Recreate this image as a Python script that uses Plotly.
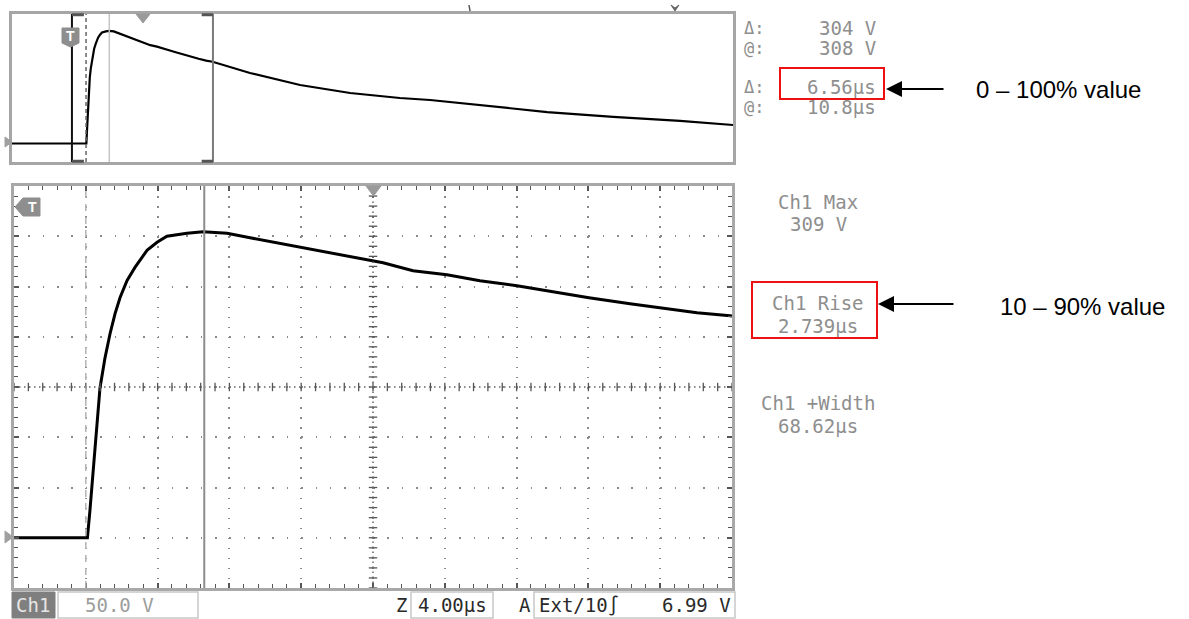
import numpy as np
import plotly.graph_objects as go

W, H = 1189, 619

# ---------------- data ----------------
TIME_US = [-17.0, 4.09, 4.23, 4.38, 4.57, 4.79, 5.07, 5.35, 5.63, 5.91, 6.30, 6.74,
           7.41, 7.97, 8.52, 9.64, 10.53, 11.87, 13.15, 14.99, 16.88, 18.72, 20.56,
           22.23, 24.12, 25.96, 28.02, 29.69, 32.03, 34.32, 35.93, 38.05, 39.89,
           50.5, 64.7, 78.9, 93.0, 101.6, 115.7, 134.8, 153.5, 172.5, 187.5]
VOLTS = [0, 0, 27, 60, 109, 149, 179, 203, 223, 239, 256, 269,
         286, 294, 300, 303, 304.5, 303, 298.5, 292.5, 285.6, 279.6, 273.6,
         265.7, 261.7, 255.7, 250.7, 245.8, 238.8, 232.8, 228.9, 223.9, 220.9,
         190.5, 158, 136.5, 123, 117.6, 104, 85, 72, 61, 50]

TIME_PER_DIV_US = 4.0
VOLTS_PER_DIV = 50.0
SCREEN_T = [0, 40]
SCREEN_V = [-50, 350]
RECORD_T = [-17, 187.5]
CURSOR_T = 10.6
TRIGGER_T = 4.0

READOUT_LABELS = ["Δ:", "@:", "Δ:", "@:"]
READOUT_VALUES = ["304 V", "308 V", "6.56µs", "10.8µs"]
MEAS_NAMES = ["Ch1 Max", "Ch1 Rise", "Ch1 +Width"]
MEAS_VALUES = ["309 V", "2.739µs", "68.62µs"]
CALLOUTS = ["0 – 100% value", "10 – 90% value"]
STATUS = ["Ch1", "50.0 V", "Z", "4.00µs", "A", "Ext/10∫", "6.99 V"]

MONO = "DejaVu Sans Mono"
SANS = "Liberation Sans, Arial"
GRAY_TXT = "#8e8e8e"


def px(x):
    return x / W


def py(y):
    return 1 - y / H


def ptext(x, y, s, size=20, color=GRAY_TXT, xanchor="center", family=MONO):
    return dict(x=px(x), y=py(y), xref="paper", yref="paper", text=s, showarrow=False,
                xanchor=xanchor, yanchor="middle",
                font=dict(family=family, size=size, color=color))


def ppath(points, fill, line=None):
    d = "M " + " L ".join(f"{px(a):.5f},{py(b):.5f}" for a, b in points) + " Z"
    return dict(type="path", path=d, xref="paper", yref="paper", fillcolor=fill,
                line=dict(color=line or fill, width=1), layer="above")


def prect(x0, y0, x1, y1, color, width=2, fill=None):
    return dict(type="rect", xref="paper", yref="paper", x0=px(x0), x1=px(x1),
                y0=py(y1), y1=py(y0), line=dict(color=color, width=width),
                fillcolor=fill or "rgba(0,0,0,0)", layer="above")


fig = go.Figure()

# top: whole record
fig.add_trace(go.Scatter(x=TIME_US, y=VOLTS, mode="lines", xaxis="x", yaxis="y",
                         line=dict(color="#000", width=2.2), hoverinfo="skip"))
# bottom: zoomed screen
fig.add_trace(go.Scatter(x=TIME_US, y=VOLTS, mode="lines", xaxis="x2", yaxis="y2",
                         line=dict(color="#000", width=3), hoverinfo="skip"))

# center-line graticule ticks
minor_t = np.arange(SCREEN_T[0], SCREEN_T[1] + 1e-9, TIME_PER_DIV_US / 5)
minor_v = np.arange(SCREEN_V[0], SCREEN_V[1] + 1e-9, VOLTS_PER_DIV / 5)
ct = (SCREEN_T[0] + SCREEN_T[1]) / 2
cv = (SCREEN_V[0] + SCREEN_V[1]) / 2
fig.add_trace(go.Scatter(x=minor_t, y=[cv] * len(minor_t), mode="markers", xaxis="x2", yaxis="y2",
                         marker=dict(symbol="line-ns", size=6, line=dict(color="#555", width=1.3)),
                         hoverinfo="skip"))
fig.add_trace(go.Scatter(x=[ct] * len(minor_v), y=minor_v, mode="markers", xaxis="x2", yaxis="y2",
                         marker=dict(symbol="line-ew", size=6, line=dict(color="#555", width=1.3)),
                         hoverinfo="skip"))

shapes = []
# ---- top window decorations
shapes.append(dict(type="line", xref="x", yref="y domain", x0=0, x1=0, y0=0, y1=1,
                   line=dict(color="#111", width=2)))
shapes.append(dict(type="line", xref="x", yref="y domain", x0=40, x1=40, y0=0, y1=1,
                   line=dict(color="#7a7a7a", width=2)))
for yy in (0.005, 0.995):
    shapes.append(dict(type="line", xref="x", yref="y domain", x0=0, x1=3.4, y0=yy, y1=yy,
                       line=dict(color="#555", width=3)))
    shapes.append(dict(type="line", xref="x", yref="y domain", x0=36.8, x1=40, y0=yy, y1=yy,
                       line=dict(color="#555", width=3)))
shapes.append(dict(type="line", xref="x", yref="y domain", x0=TRIGGER_T, x1=TRIGGER_T, y0=0, y1=1,
                   line=dict(color="#666", width=1.5, dash="4px,3px")))
shapes.append(dict(type="line", xref="x", yref="y domain", x0=CURSOR_T, x1=CURSOR_T, y0=0, y1=1,
                   line=dict(color="#c4c4c4", width=1.5)))

# ---- bottom screen decorations
shapes.append(dict(type="line", xref="x2", yref="y2 domain", x0=TRIGGER_T, x1=TRIGGER_T, y0=0, y1=1,
                   line=dict(color="#b4b4b4", width=1.5, dash="7px,6px")))
shapes.append(dict(type="line", xref="x2", yref="y2 domain", x0=ct, x1=ct, y0=0, y1=1,
                   line=dict(color="#666", width=1.5, dash="1.5px,3.5px")))
shapes.append(dict(type="line", xref="x2 domain", yref="y2", x0=0, x1=1, y0=cv, y1=cv,
                   line=dict(color="#666", width=1.5, dash="1.5px,3.5px")))
shapes.append(dict(type="line", xref="x2", yref="y2 domain", x0=CURSOR_T, x1=CURSOR_T, y0=0, y1=1,
                   line=dict(color="#8c8c8c", width=2)))

# markers (ground, trigger, position)
shapes.append(ppath([(5, 137), (12, 142), (5, 147)], "#a0a0a0"))
shapes.append(ppath([(5, 531), (13, 537), (5, 543)], "#a0a0a0"))
shapes.append(ppath([(136, 14), (150, 14), (143, 23)], "#9a9a9a"))
shapes.append(ppath([(366, 186), (381, 186), (373.5, 196)], "#9a9a9a"))
shapes.append(ppath([(62, 28), (79, 28), (79, 43), (70.5, 47), (62, 43)], "#8e8e8e"))
shapes.append(ppath([(15, 207), (23, 198), (40, 198), (40, 216), (23, 216)], "#8e8e8e"))
shapes.append(dict(type="line", xref="paper", yref="paper", x0=px(469), x1=px(470), y0=py(5), y1=py(11),
                   line=dict(color="#555", width=1.5)))
shapes.append(ppath([(671, 5), (675, 11), (679, 5), (675, 8)], "#666"))

# ---- status strip boxes
shapes.append(prect(12, 592, 55, 618, "#7f7f7f", 1, "#7f7f7f"))
shapes.append(prect(58, 592, 198, 618, "#c8c8c8", 1.5))
shapes.append(prect(411, 592, 493, 618, "#c8c8c8", 1.5))
shapes.append(prect(534, 592, 735, 618, "#c8c8c8", 1.5))

# ---- red highlight boxes
shapes.append(prect(780, 68, 884, 99, "#ee1111", 2))
shapes.append(prect(752, 282, 877, 338, "#ee1111", 2))

annotations = []
annotations.append(ptext(70.5, 36, "<b>T</b>", size=14, color="#ffffff", family=SANS))
annotations.append(ptext(32, 207, "<b>T</b>", size=14, color="#ffffff", family=SANS))

# cursor readouts
rows_y = [28, 48, 87, 107]
for lab, val, yy in zip(READOUT_LABELS, READOUT_VALUES, rows_y):
    annotations.append(ptext(742, yy, lab, size=17, xanchor="left"))
    annotations.append(ptext(878, yy, val, size=19, xanchor="right"))

# measurements
meas_y = [(202, 224), (303, 326), (403, 426)]
for name, val, (y1, y2) in zip(MEAS_NAMES, MEAS_VALUES, meas_y):
    annotations.append(ptext(818, y1, name, size=19))
    annotations.append(ptext(818, y2, val, size=19))

# status strip
annotations.append(ptext(33, 605, STATUS[0], size=19, color="#e6e6e6"))
annotations.append(ptext(119, 605, STATUS[1], size=19, color="#9c9c9c"))
annotations.append(ptext(401, 605, STATUS[2], size=19, color="#2a2a2a"))
annotations.append(ptext(452, 605, STATUS[3], size=19, color="#2a2a2a"))
annotations.append(ptext(525, 605, STATUS[4], size=19, color="#2a2a2a"))
annotations.append(ptext(537, 605, STATUS[5], size=19, color="#2a2a2a", xanchor="left"))
annotations.append(ptext(733, 605, STATUS[6], size=19, color="#2a2a2a", xanchor="right"))

# callouts
for (hx, hy, tx), label in zip([(886, 89, 945), (878, 304, 955)], CALLOUTS):
    annotations.append(dict(x=px(hx), y=py(hy), xref="paper", yref="paper", text="",
                            showarrow=True, ax=tx - hx, ay=0, arrowhead=2, arrowsize=1.6,
                            arrowwidth=2, arrowcolor="#000"))
annotations.append(ptext(974, 90, CALLOUTS[0], size=24, color="#000", xanchor="left", family=SANS))
annotations.append(ptext(998, 306, CALLOUTS[1], size=24, color="#000", xanchor="left", family=SANS))

frame_common = dict(showticklabels=False, zeroline=False, showline=True, mirror=True)

fig.update_layout(
    width=W, height=H, margin=dict(l=0, r=0, t=0, b=0),
    paper_bgcolor="white", plot_bgcolor="white", showlegend=False,
    xaxis=dict(domain=[px(12), px(733)], range=RECORD_T, showgrid=False, ticks="",
               linecolor="#a6a6a6", linewidth=3, anchor="y", **frame_common),
    yaxis=dict(domain=[py(162), py(14)], range=SCREEN_V, showgrid=False, ticks="",
               linecolor="#a6a6a6", linewidth=3, anchor="x", **frame_common),
    xaxis2=dict(domain=[px(14), px(732)], range=SCREEN_T, anchor="y2",
                showgrid=True, tick0=0, dtick=TIME_PER_DIV_US,
                gridcolor="#8a8a8a", gridwidth=1.5, griddash="1.5px,8.55px",
                showticklabels=False, zeroline=False, showline=True, mirror="ticks",
                linecolor="#a8a8a8", linewidth=3, ticks="inside", ticklen=5,
                tickcolor="#555", tickwidth=1.5,
                minor=dict(dtick=TIME_PER_DIV_US / 5, ticks="inside", ticklen=4,
                           tickcolor="#555", tickwidth=1.2, showgrid=False)),
    yaxis2=dict(domain=[py(588), py(186)], range=SCREEN_V, anchor="x2",
                showgrid=True, tick0=0, dtick=VOLTS_PER_DIV,
                gridcolor="#8a8a8a", gridwidth=1.5, griddash="1.5px,12.86px",
                showticklabels=False, zeroline=False, showline=True, mirror="ticks",
                linecolor="#a8a8a8", linewidth=3, ticks="inside", ticklen=5,
                tickcolor="#555", tickwidth=1.5,
                minor=dict(dtick=VOLTS_PER_DIV / 5, ticks="inside", ticklen=4,
                           tickcolor="#555", tickwidth=1.2, showgrid=False)),
    shapes=shapes, annotations=annotations,
)

fig.write_html("out.html", config={"displayModeBar": False},
               post_script="document.body.style.margin='0px';document.body.style.overflow='hidden';")
